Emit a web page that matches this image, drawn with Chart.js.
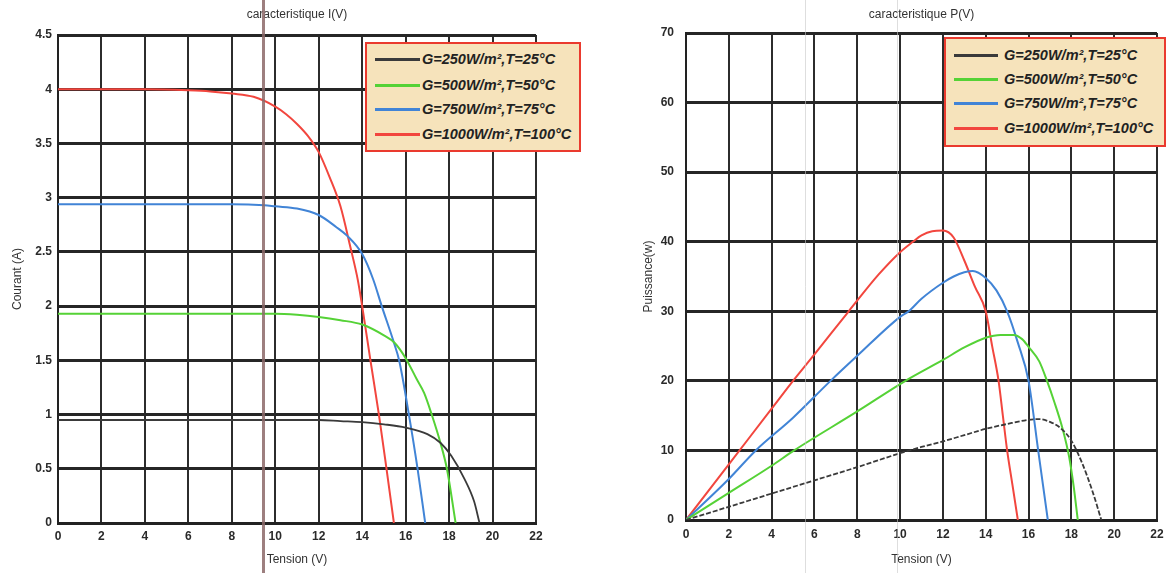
<!DOCTYPE html>
<html>
<head>
<meta charset="utf-8">
<script src="https://cdn.jsdelivr.net/npm/chart.js@4.4.1/dist/chart.umd.min.js"></script>
<style>
  html, body { margin: 0; padding: 0; background: #fff; width: 1172px; height: 573px; overflow: hidden; }
  #c1 { position: absolute; left: 0; top: 0; }
  #c2 { position: absolute; left: 590px; top: 0; }
  .legend { position: absolute; background: #f6e3bb; border: 2px solid #ea3a2e; box-sizing: border-box; }
  .row { position: absolute; left: 0; height: 0; }
  .row .sw { position: absolute; height: 3px; top: -1.5px; }
  .row .tx { position: absolute; top: -9px; font: italic bold 14.5px "Liberation Sans", Arial, sans-serif; color: #222; white-space: nowrap; line-height: 18px; }
</style>
</head>
<body>
<canvas id="c1" width="590" height="573"></canvas>
<canvas id="c2" width="582" height="573"></canvas>
<div id="leg1" class="legend" style="left:365px;top:42px;width:216px;height:110px;"></div>
<div id="leg2" class="legend" style="left:944px;top:37px;width:222px;height:110px;"></div>
<script>
// ---------- DATA ----------
const seriesLabels = ['G=250W/m\u00b2,T=25\u00b0C', 'G=500W/m\u00b2,T=50\u00b0C', 'G=750W/m\u00b2,T=75\u00b0C', 'G=1000W/m\u00b2,T=100\u00b0C'];
const seriesColors = ['#3a3a3a', '#55d236', '#4184d6', '#f2463e'];

// I(V) characteristic: tension (V) and courant (A)
const iv250_V  = [0, 2, 4, 6, 8, 10, 12, 13, 14, 15, 16, 17, 17.6, 18.1, 18.7, 19.15, 19.4];
const iv250_I  = [0.95, 0.95, 0.95, 0.95, 0.95, 0.95, 0.95, 0.94, 0.93, 0.91, 0.88, 0.82, 0.74, 0.62, 0.41, 0.2, 0];
const iv500_V  = [0, 2, 4, 6, 8, 10, 11, 12, 13, 14, 15, 15.5, 16, 16.5, 16.85, 17.2, 17.6, 17.9, 18.3];
const iv500_I  = [1.93, 1.93, 1.93, 1.93, 1.93, 1.93, 1.92, 1.9, 1.87, 1.83, 1.73, 1.66, 1.52, 1.33, 1.2, 1.0, 0.74, 0.5, 0];
const iv750_V  = [0, 2, 4, 6, 8, 9.5, 10, 11, 12, 12.8, 13.3, 14, 14.5, 14.9, 15.45, 15.7, 16.15, 16.55, 16.9];
const iv750_I  = [2.94, 2.94, 2.94, 2.94, 2.94, 2.93, 2.92, 2.9, 2.84, 2.73, 2.65, 2.48, 2.25, 2.0, 1.67, 1.5, 1.0, 0.5, 0];
const iv1000_V = [0, 2, 4, 6, 7, 8, 9, 10, 10.5, 11, 11.5, 12, 12.5, 13, 13.45, 13.8, 14, 14.38, 14.77, 15.12, 15.46];
const iv1000_I = [4.0, 4.0, 4.0, 3.99, 3.98, 3.96, 3.93, 3.84, 3.77, 3.68, 3.57, 3.42, 3.19, 2.92, 2.55, 2.24, 2.0, 1.5, 1.0, 0.5, 0];

// P(V) characteristic: tension (V) and puissance (W)
const pv250_V  = [0, 2, 4, 6, 8, 10, 11, 12, 13, 14, 15, 16, 16.5, 17, 17.5, 18, 18.5, 19, 19.4];
const pv250_P  = [0, 1.9, 3.8, 5.7, 7.6, 9.6, 10.5, 11.3, 12.2, 13.1, 13.8, 14.4, 14.5, 14.1, 13.2, 11.4, 8.2, 4.0, 0];
const pv500_V  = [0, 2, 4, 5.05, 8, 10.25, 12, 13, 14, 14.7, 15.3, 15.7, 16, 16.5, 16.85, 17.2, 17.6, 17.9, 18.1, 18.3];
const pv500_P  = [0, 3.9, 7.8, 10, 15.6, 20, 23.0, 24.8, 26.2, 26.6, 26.6, 26.0, 24.9, 22.8, 20.1, 17.0, 13.0, 9.0, 5.0, 0];
const pv750_V  = [0, 2, 3.26, 5, 6.75, 8, 10, 10.4, 11, 12, 12.5, 13, 13.4, 14, 14.5, 15, 15.5, 16, 16.45, 16.9];
const pv750_P  = [0, 5.9, 10, 14.7, 20, 23.6, 29.2, 30, 31.8, 34.1, 35.0, 35.6, 35.8, 34.8, 33, 30, 25.5, 20, 10, 0];
const pv1000_V = [0, 2, 4, 5, 6, 7.6, 9, 10, 10.6, 11, 11.5, 12, 12.5, 13, 13.5, 14, 14.3, 14.6, 14.8, 15, 15.25, 15.5];
const pv1000_P = [0, 8, 16, 20, 23.8, 30, 35.3, 38.5, 40, 40.9, 41.5, 41.6, 40.6, 37.3, 33.5, 30, 25, 20, 15, 10, 5, 0];

const tensionTicks = [0, 2, 4, 6, 8, 10, 12, 14, 16, 18, 20, 22];
const courantTicks = [0, 0.5, 1, 1.5, 2, 2.5, 3, 3.5, 4, 4.5];
const puissanceTicks = [0, 10, 20, 30, 40, 50, 60, 70];

// ---------- helpers ----------
const zip = (xs, ys) => xs.map((x, i) => ({ x: x, y: ys[i] }));
const FONT = '"Liberation Sans", Arial, sans-serif';

function makeDatasets(pairs, blackDash) {
  return pairs.map((p, i) => ({
    label: seriesLabels[i],
    data: zip(p[0], p[1]),
    borderColor: seriesColors[i],
    borderWidth: i === 0 ? 1.8 : 2,
    borderDash: (i === 0 && blackDash) ? [5, 2] : [],
    pointRadius: 0,
    cubicInterpolationMode: 'monotone',
    fill: false
  }));
}

const scanLines = {
  id: 'scanLines',
  afterDatasetsDraw(chart, args, opts) {
    const ctx = chart.ctx, xs = chart.scales.x;
    (opts.lines || []).forEach(l => {
      const px = Math.round(xs.getPixelForValue(l.x)) + 0.5;
      ctx.save();
      ctx.strokeStyle = l.color; ctx.lineWidth = l.width;
      ctx.beginPath(); ctx.moveTo(px, 0); ctx.lineTo(px, chart.height); ctx.stroke();
      ctx.restore();
    });
  }
};

function buildOptions(cfg) {
  return {
    responsive: false,
    maintainAspectRatio: false,
    animation: false,
    layout: { padding: cfg.padding },
    plugins: {
      legend: { display: false },
      tooltip: { enabled: false },
      title: {
        display: true, text: cfg.title, fullSize: false,
        color: '#333', font: { family: FONT, size: 12, weight: 'normal' },
        padding: { top: 7, bottom: cfg.titleBottom }
      },
      scanLines: { lines: cfg.scanLines }
    },
    scales: {
      x: {
        type: 'linear', min: 0, max: 22,
        afterBuildTicks: s => { s.ticks = tensionTicks.map(v => ({ value: v })); },
        ticks: { color: '#2a2a2a', font: { family: FONT, size: 12, weight: 'bold' }, padding: cfg.xTickPad, maxRotation: 0, callback: v => String(v) },
        grid: { color: '#2c2c2c', lineWidth: 2, drawTicks: false },
        border: { display: true, color: '#222', width: 3 },
        title: { display: true, text: 'Tension (V)', color: '#333', font: { family: FONT, size: 12 }, padding: { top: 0, bottom: 6 } },
        afterFit: s => { s.height = cfg.xHeight; }
      },
      y: {
        type: 'linear', min: 0, max: cfg.yMax,
        afterBuildTicks: s => { s.ticks = cfg.yTicks.map(v => ({ value: v })); },
        ticks: { color: '#2a2a2a', font: { family: FONT, size: 12, weight: 'bold' }, padding: cfg.yTickPad, callback: v => String(v) },
        grid: { color: '#262626', lineWidth: 3, drawTicks: false },
        border: { display: true, color: '#222', width: 2 },
        title: { display: true, text: cfg.yTitle, color: '#333', font: { family: FONT, size: 12 }, padding: { top: cfg.yTitlePad, bottom: 0 } },
        afterFit: s => { s.width = cfg.yWidth; }
      }
    }
  };
}

new Chart(document.getElementById('c1'), {
  type: 'line',
  data: { datasets: makeDatasets([[iv250_V, iv250_I], [iv500_V, iv500_I], [iv750_V, iv750_I], [iv1000_V, iv1000_I]], false) },
  options: buildOptions({
    title: 'caracteristique I(V)', titleBottom: 13.6,
    padding: { left: 6, right: 54, top: 0, bottom: 0 },
    xHeight: 50, xTickPad: 6, yMax: 4.5, yTicks: courantTicks,
    yTickPad: 6, yWidth: 52, yTitle: 'Courant (A)', yTitlePad: 4,
    scanLines: [{ x: 9.43, color: 'rgba(140,105,105,0.85)', width: 3 }]
  }),
  plugins: [scanLines]
});

new Chart(document.getElementById('c2'), {
  type: 'line',
  data: { datasets: makeDatasets([[pv250_V, pv250_P], [pv500_V, pv500_P], [pv750_V, pv750_P], [pv1000_V, pv1000_P]], true) },
  options: buildOptions({
    title: 'caracteristique P(V)', titleBottom: 11.6,
    padding: { left: 50, right: 15, top: 0, bottom: 0 },
    xHeight: 53, xTickPad: 7, yMax: 70, yTicks: puissanceTicks,
    yTickPad: 12, yWidth: 46, yTitle: 'Puissance(w)', yTitlePad: 1,
    scanLines: [{ x: 5.56, color: 'rgba(200,200,200,0.6)', width: 1 }, { x: 9.86, color: 'rgba(200,200,200,0.6)', width: 1 }]
  }),
  plugins: [scanLines]
});

// ---------- legends (HTML text) ----------
function buildLegend(id, rowsY, swLeft, swWidth, txLeft) {
  const el = document.getElementById(id);
  seriesLabels.forEach((lab, i) => {
    const r = document.createElement('div');
    r.className = 'row';
    r.style.top = rowsY[i] + 'px';
    const sw = document.createElement('div');
    sw.className = 'sw';
    sw.style.left = swLeft + 'px'; sw.style.width = swWidth + 'px';
    sw.style.background = seriesColors[i];
    const tx = document.createElement('div');
    tx.className = 'tx';
    tx.style.left = txLeft + 'px';
    tx.textContent = lab;
    r.appendChild(sw); r.appendChild(tx);
    el.appendChild(r);
  });
}
buildLegend('leg1', [15, 41, 65, 90], 8, 45, 55);
buildLegend('leg2', [16, 40, 64, 89], 8, 44, 58);
</script>
</body>
</html>
